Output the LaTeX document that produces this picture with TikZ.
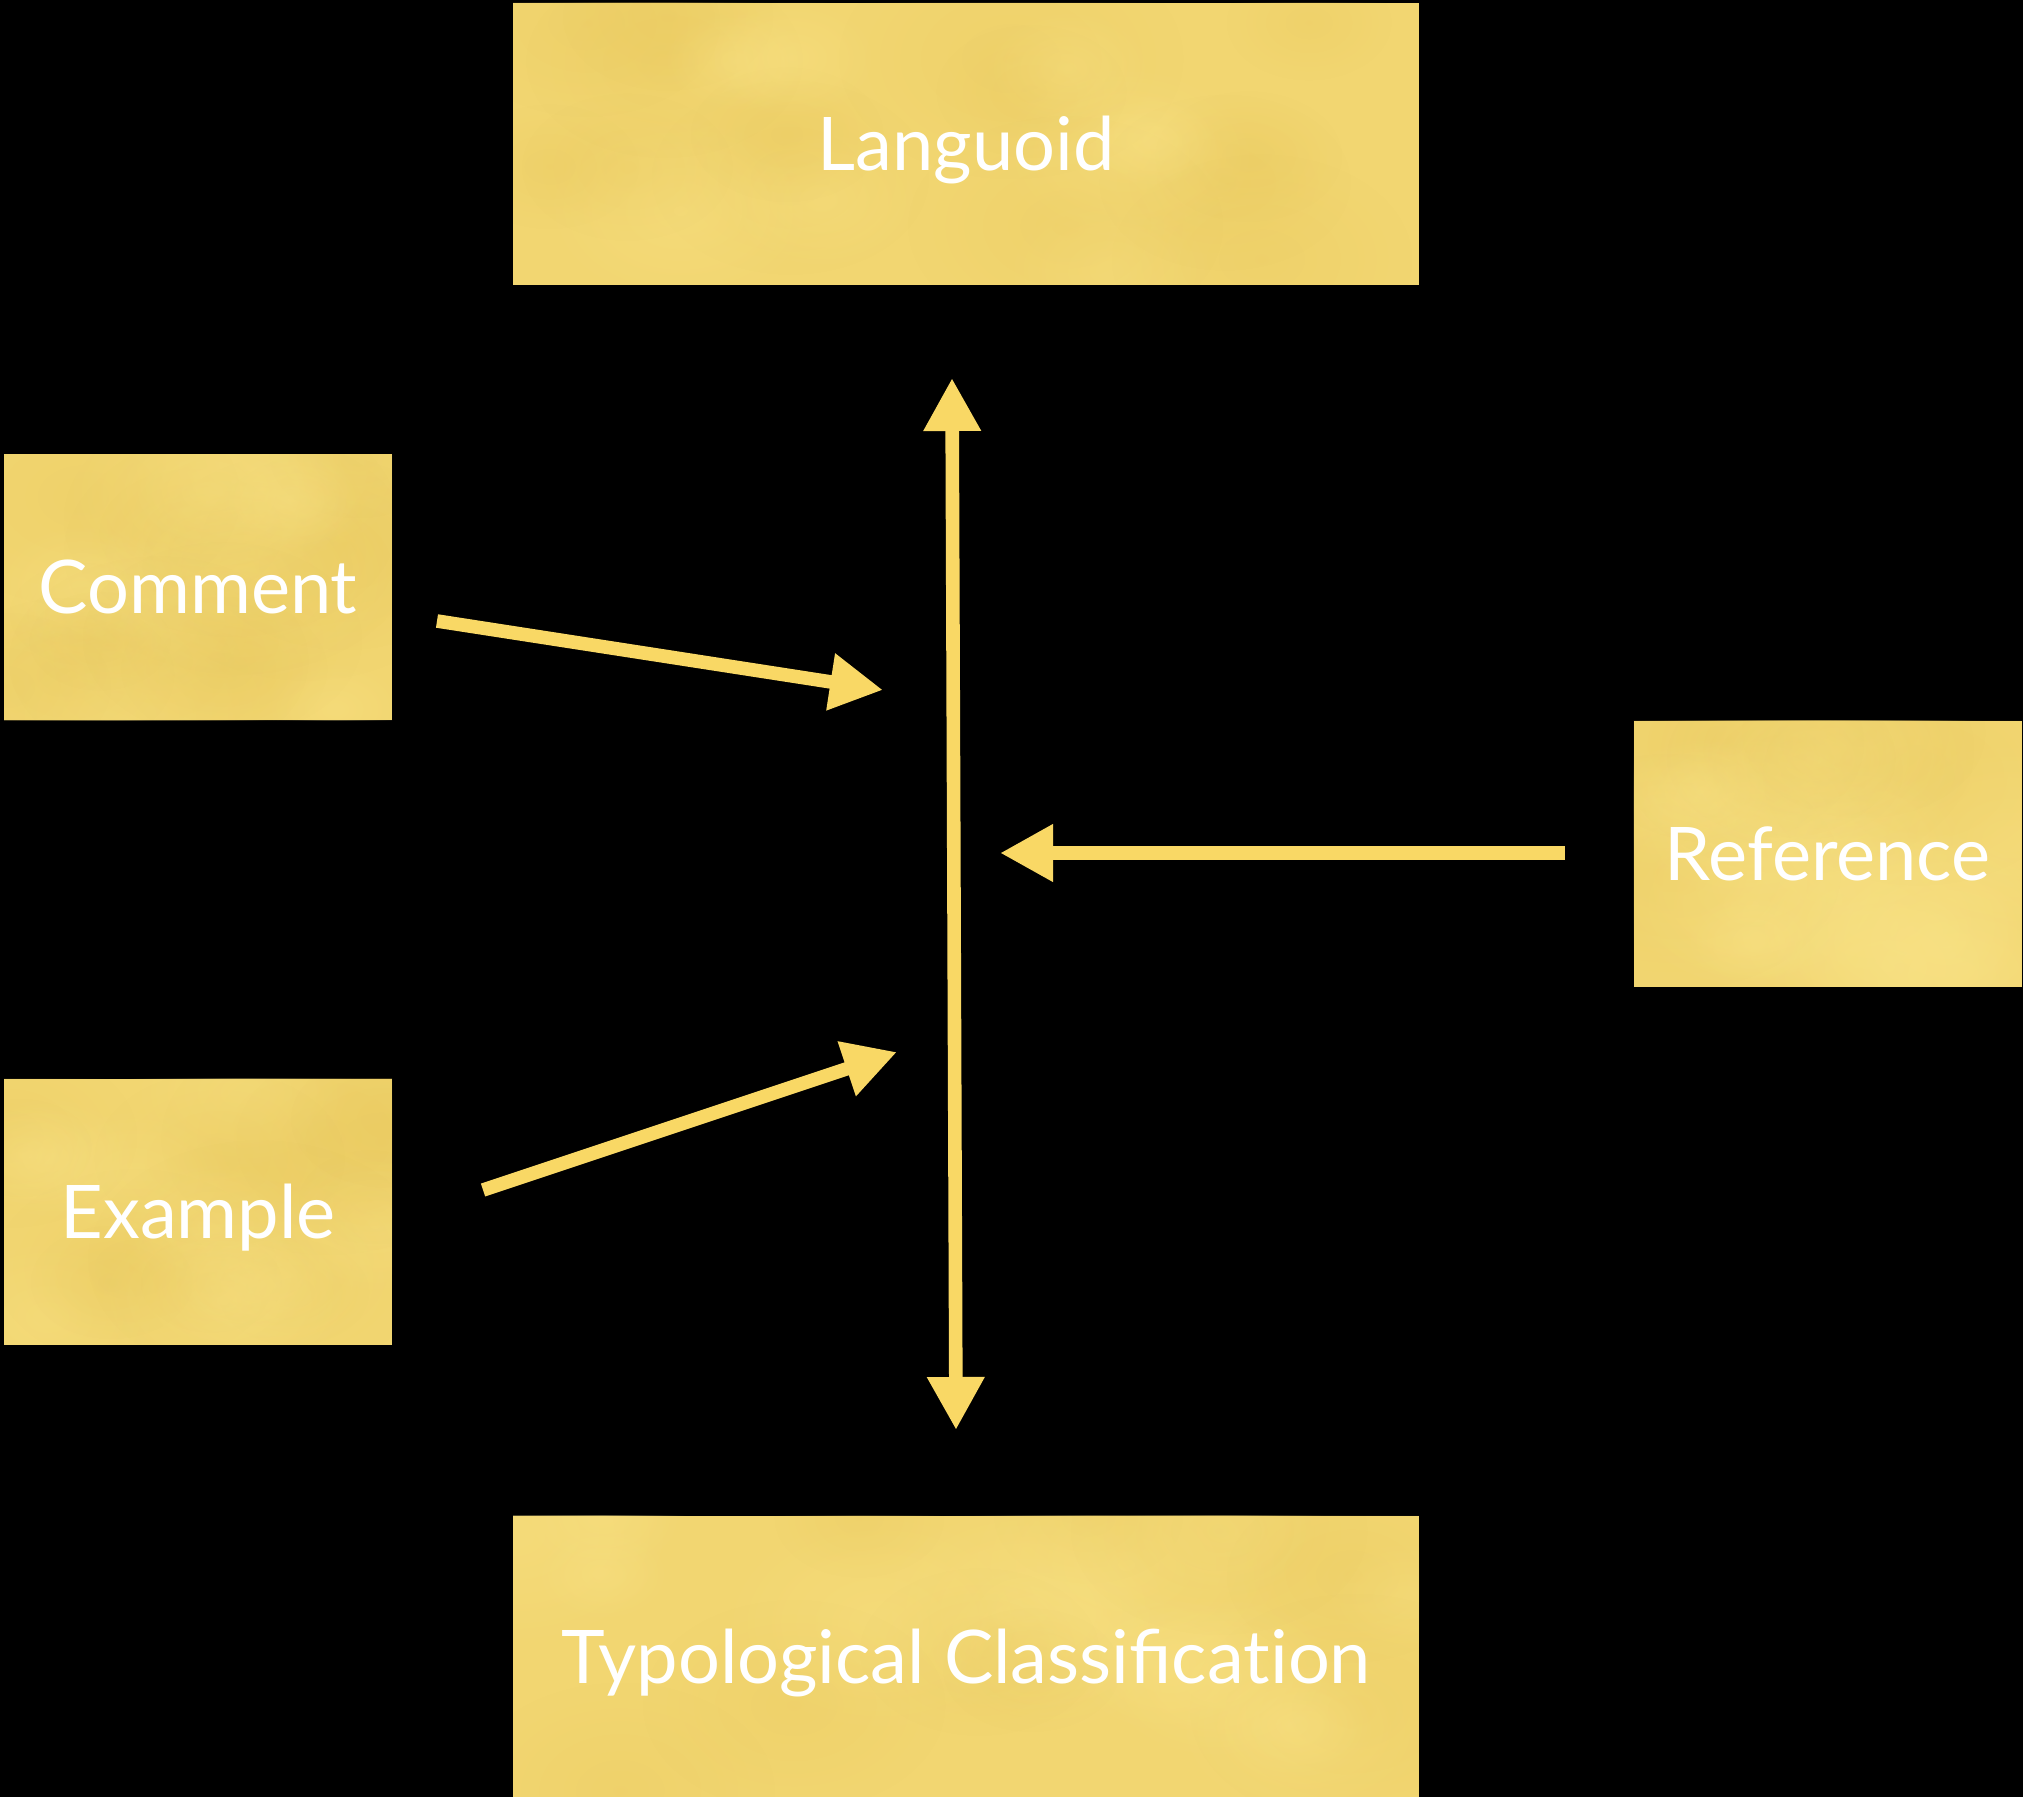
\documentclass[tikz,border=0pt]{standalone}
\usepackage{fontspec}
\setmainfont{Lato}
\usetikzlibrary{arrows.meta,fadings,calc}

\definecolor{boxfill}{RGB}{242,214,113}
\definecolor{boxdark}{RGB}{228,193,82}
\definecolor{boxlight}{RGB}{250,228,136}
\definecolor{arrowcol}{RGB}{249,216,101}

\tikzfading[name=softspot, inner color=transparent!0, outer color=transparent!100]

\pgfdeclarelayer{pagelayer}
\pgfdeclarelayer{boxlayer}
\pgfsetlayers{pagelayer,boxlayer,main}

\tikzset{
  label font/.style={font=\fontsize{37}{37}\selectfont, text height=26.8pt, text depth=0pt},
  box/.style={label font, inner sep=0pt, outer sep=0pt, text=white},
  widebox/.style={box, minimum width=453pt, minimum height=141pt},
  smallbox/.style={box, minimum width=194pt, minimum height=133pt},
  flow/.style={draw=arrowcol, line width=6.8pt,
    -{Triangle[width=27pt,length=26.5pt]}},
  twoway/.style={draw=arrowcol, line width=6.8pt,
    {Triangle[width=27pt,length=26.5pt]}-{Triangle[width=27pt,length=26.5pt]}},
}

% soft, cloudy mottling of a paper-like box
\newcommand\mottle[1]{%
  \begin{scope}
    \clip (#1.north west) rectangle (#1.south east);
    \foreach \i in {1,...,22}{
      \pgfmathsetmacro\px{rnd}
      \pgfmathsetmacro\py{rnd}
      \pgfmathsetmacro\rr{70+110*rnd}
      \pgfmathsetmacro\kind{rnd}
      \ifdim\kind pt<0.5pt
        \fill[boxdark, opacity=0.2, path fading=softspot]
          ($(#1.north west)!\px!(#1.north east) + (#1.north west)!\py!(#1.south west) - (#1.north west)$)
          ellipse[x radius=\rr, y radius=0.7*\rr];
      \else
        \fill[boxlight, opacity=0.35, path fading=softspot]
          ($(#1.north west)!\px!(#1.north east) + (#1.north west)!\py!(#1.south west) - (#1.north west)$)
          ellipse[x radius=\rr, y radius=0.7*\rr];
      \fi
    }
  \end{scope}}

\begin{document}
\begin{tikzpicture}[x=0.5pt,y=-0.5pt]
  % page background
  \begin{pgfonlayer}{pagelayer}
    \fill[black] (0,0) rectangle (2023,1797);
  \end{pgfonlayer}
  \useasboundingbox (0,0) rectangle (2023,1797);

  % boxes
  \node[widebox]  (lang)    at (966,144)      {Languoid};
  \node[smallbox] (comment) at (198,587)      {Comment};
  \node[smallbox] (ref)     at (1827.5,853.5) {Reference};
  \node[smallbox] (example) at (198,1211.5)   {Example};
  \node[widebox]  (typo)    at (966,1656.5)   {Typological Classificat\kern0pt ion};

  % box surfaces
  \begin{pgfonlayer}{boxlayer}
    \pgfmathsetseed{11}
    \foreach \b in {lang,comment,ref,example,typo}{
      \fill[boxfill] (\b.north west) rectangle (\b.south east);
      \mottle{\b}
    }
  \end{pgfonlayer}

  % arrow end points
  \coordinate (vtop) at (952,378);
  \coordinate (vbot) at (956,1430);
  \coordinate (cstart) at (437,621);
  \coordinate (cend)   at (883,690);
  \coordinate (rstart) at (1565,853);
  \coordinate (rend)   at (1000,853);
  \coordinate (estart) at (483,1190);
  \coordinate (eend)   at (897,1052);

  % connectors
  \draw[twoway] (vtop) -- (vbot);
  \draw[flow] (cstart) -- (cend);
  \draw[flow] (rstart) -- (rend);
  \draw[flow] (estart) -- (eend);
\end{tikzpicture}
\end{document}
